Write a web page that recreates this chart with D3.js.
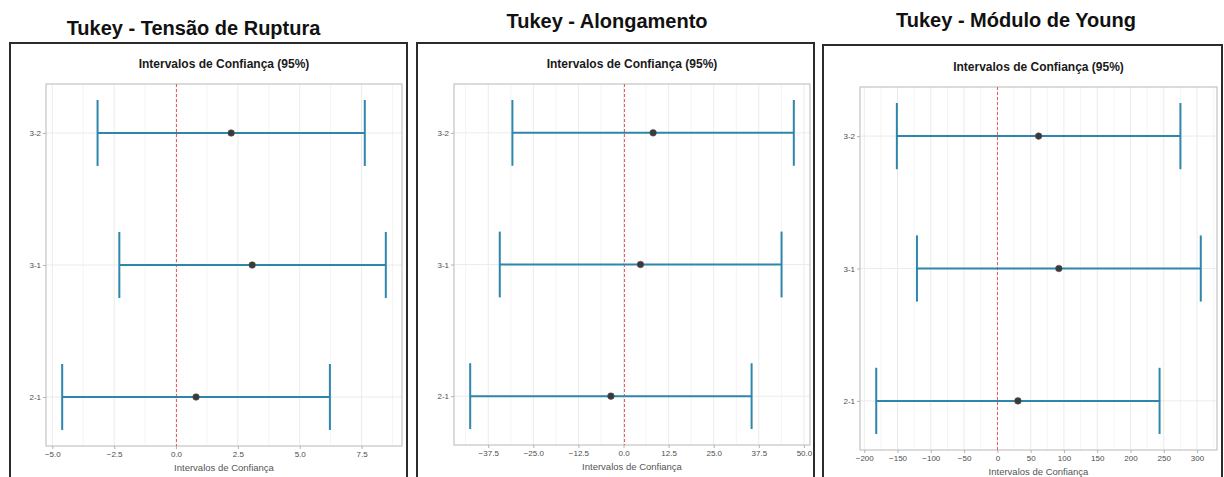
<!DOCTYPE html>
<html>
<head>
<meta charset="utf-8">
<script src="https://cdn.jsdelivr.net/npm/d3@7"></script>
<style>
  html, body { margin: 0; padding: 0; background: #ffffff; }
  svg { display: block; }
  text { font-family: "Liberation Sans", Arial, sans-serif; }
</style>
</head>
<body>
<svg id="chart" width="1224" height="477"></svg>
<script>
// ---------------- DATA ----------------
const comparisons = ["3-2", "3-1", "2-1"];

const titles = ["Tukey - Tensão de Ruptura", "Tukey - Alongamento", "Tukey - Módulo de Young"];
const subtitle = "Intervalos de Confiança (95%)";
const xAxisTitle = "Intervalos de Confiança";

const tensaoDiff = [2.23, 3.08, 0.81];
const tensaoLwr  = [-3.17, -2.29, -4.60];
const tensaoUpr  = [7.63, 8.48, 6.22];

const alongDiff = [8.2, 4.7, -3.5];
const alongLwr  = [-30.8, -34.3, -42.5];
const alongUpr  = [47.2, 43.8, 35.5];

const youngDiff = [62.0, 92.4, 30.9];
const youngLwr  = [-151.0, -120.8, -182.0];
const youngUpr  = [275.0, 305.6, 243.7];

const tensaoTicks = [-5.0, -2.5, 0.0, 2.5, 5.0, 7.5];
const alongTicks  = [-37.5, -25.0, -12.5, 0.0, 12.5, 25.0, 37.5, 50.0];
const youngTicks  = [-200, -150, -100, -50, 0, 50, 100, 150, 200, 250, 300];

// ---------------- LAYOUT ----------------
const panels = [
  { title: titles[0], diff: tensaoDiff, lwr: tensaoLwr, upr: tensaoUpr, ticks: tensaoTicks, fmt: d3.format(".1f"),
    frame: { x: 10, y: 43, w: 397 }, titleX: 193.5, titleY: 35,
    plot: { x0: 46, x1: 402, y0: 84, y1: 446 } },
  { title: titles[1], diff: alongDiff, lwr: alongLwr, upr: alongUpr, ticks: alongTicks, fmt: d3.format(".1f"),
    frame: { x: 417, y: 43, w: 397 }, titleX: 607, titleY: 28,
    plot: { x0: 454, x1: 810, y0: 84, y1: 445 } },
  { title: titles[2], diff: youngDiff, lwr: youngLwr, upr: youngUpr, ticks: youngTicks, fmt: d3.format("d"),
    frame: { x: 823, y: 45, w: 399 }, titleX: 1016, titleY: 27,
    plot: { x0: 860, x1: 1217, y0: 87, y1: 450 } }
];

const svg = d3.select("#chart");

panels.forEach(p => {
  const g = svg.append("g");

  // outer frame
  g.append("rect")
    .attr("x", p.frame.x).attr("y", p.frame.y)
    .attr("width", p.frame.w).attr("height", 477 - p.frame.y + 10)
    .attr("fill", "#ffffff").attr("stroke", "#2b2b2b").attr("stroke-width", 2);

  // main title
  svg.append("text")
    .attr("x", p.titleX).attr("y", p.titleY)
    .attr("text-anchor", "middle")
    .attr("font-size", 20).attr("font-weight", "bold").attr("fill", "#111")
    .text(p.title);

  const lo = d3.min(p.lwr), hi = d3.max(p.upr);
  const pad = (hi - lo) * 0.05;
  const x = d3.scaleLinear().domain([lo - pad, hi + pad]).range([p.plot.x0, p.plot.x1]);
  const y = d3.scalePoint().domain(comparisons).range([p.plot.y0, p.plot.y1]).padding(0.371);
  const capH = y.step() * 0.25;

  // subtitle
  g.append("text")
    .attr("x", (p.plot.x0 + p.plot.x1) / 2).attr("y", p.plot.y0 - 16)
    .attr("text-anchor", "middle")
    .attr("font-size", 12).attr("font-weight", "bold").attr("fill", "#1a1a1a")
    .text(subtitle);

  // minor grid
  const [d0, d1] = x.domain();
  const step = p.ticks[1] - p.ticks[0];
  const minors = [];
  for (let i = -1; i < p.ticks.length; i++) {
    const m = p.ticks[0] + step * (i + 0.5);
    if (m > d0 && m < d1) minors.push(m);
  }
  g.selectAll(".minor").data(minors).enter().append("line")
    .attr("x1", d => x(d)).attr("x2", d => x(d))
    .attr("y1", p.plot.y0).attr("y2", p.plot.y1)
    .attr("stroke", "#f4f4f4").attr("stroke-width", 1);

  // major grid
  g.selectAll(".majx").data(p.ticks).enter().append("line")
    .attr("x1", d => x(d)).attr("x2", d => x(d))
    .attr("y1", p.plot.y0).attr("y2", p.plot.y1)
    .attr("stroke", "#ebebeb").attr("stroke-width", 1);
  g.selectAll(".majy").data(comparisons).enter().append("line")
    .attr("x1", p.plot.x0).attr("x2", p.plot.x1)
    .attr("y1", d => y(d)).attr("y2", d => y(d))
    .attr("stroke", "#ebebeb").attr("stroke-width", 1);

  // panel border
  g.append("rect")
    .attr("x", p.plot.x0).attr("y", p.plot.y0)
    .attr("width", p.plot.x1 - p.plot.x0).attr("height", p.plot.y1 - p.plot.y0)
    .attr("fill", "none").attr("stroke", "#c4c4c4").attr("stroke-width", 1.2);

  // x axis
  const xAxis = d3.axisBottom(x).tickValues(p.ticks).tickFormat(p.fmt).tickSize(3).tickPadding(2);
  const xg = g.append("g").attr("transform", `translate(0,${p.plot.y1})`).call(xAxis);
  xg.select(".domain").remove();
  xg.selectAll(".tick line").attr("stroke", "#b3b3b3");
  xg.selectAll(".tick text").attr("font-size", 8).attr("fill", "#4d4d4d")
    .attr("font-family", "'Liberation Sans', Arial, sans-serif");

  // y axis
  const yAxis = d3.axisLeft(y).tickSize(3).tickPadding(2);
  const yg = g.append("g").attr("transform", `translate(${p.plot.x0},0)`).call(yAxis);
  yg.select(".domain").remove();
  yg.selectAll(".tick line").attr("stroke", "#b3b3b3");
  yg.selectAll(".tick text").attr("font-size", 8).attr("fill", "#4d4d4d")
    .attr("font-family", "'Liberation Sans', Arial, sans-serif");

  // x axis title
  g.append("text")
    .attr("x", (p.plot.x0 + p.plot.x1) / 2).attr("y", p.plot.y1 + 25)
    .attr("text-anchor", "middle")
    .attr("font-size", 9.5).attr("fill", "#555")
    .text(xAxisTitle);

  // zero reference line
  const zx = Math.round(x(0)) + 0.5;
  g.append("line")
    .attr("x1", zx).attr("x2", zx)
    .attr("y1", p.plot.y0).attr("y2", p.plot.y1)
    .attr("stroke", "#f05a5a").attr("stroke-width", 1)
    .attr("stroke-dasharray", "3,2");

  const rows = comparisons.map((c, i) => ({ c, diff: p.diff[i], lwr: p.lwr[i], upr: p.upr[i] }));

  // error bars
  const eb = g.selectAll(".eb").data(rows).enter().append("g");
  eb.append("line")
    .attr("x1", d => x(d.lwr)).attr("x2", d => x(d.upr))
    .attr("y1", d => y(d.c)).attr("y2", d => y(d.c))
    .attr("stroke", "#2f86ad").attr("stroke-width", 2);
  eb.append("line")
    .attr("x1", d => x(d.lwr)).attr("x2", d => x(d.lwr))
    .attr("y1", d => y(d.c) - capH).attr("y2", d => y(d.c) + capH)
    .attr("stroke", "#2f86ad").attr("stroke-width", 2);
  eb.append("line")
    .attr("x1", d => x(d.upr)).attr("x2", d => x(d.upr))
    .attr("y1", d => y(d.c) - capH).attr("y2", d => y(d.c) + capH)
    .attr("stroke", "#2f86ad").attr("stroke-width", 2);

  // points
  g.selectAll(".pt").data(rows).enter().append("circle")
    .attr("cx", d => x(d.diff)).attr("cy", d => y(d.c))
    .attr("r", 3.3).attr("fill", "#3a3a3a").attr("stroke", "#555").attr("stroke-width", 0.6);
});
</script>
</body>
</html>
